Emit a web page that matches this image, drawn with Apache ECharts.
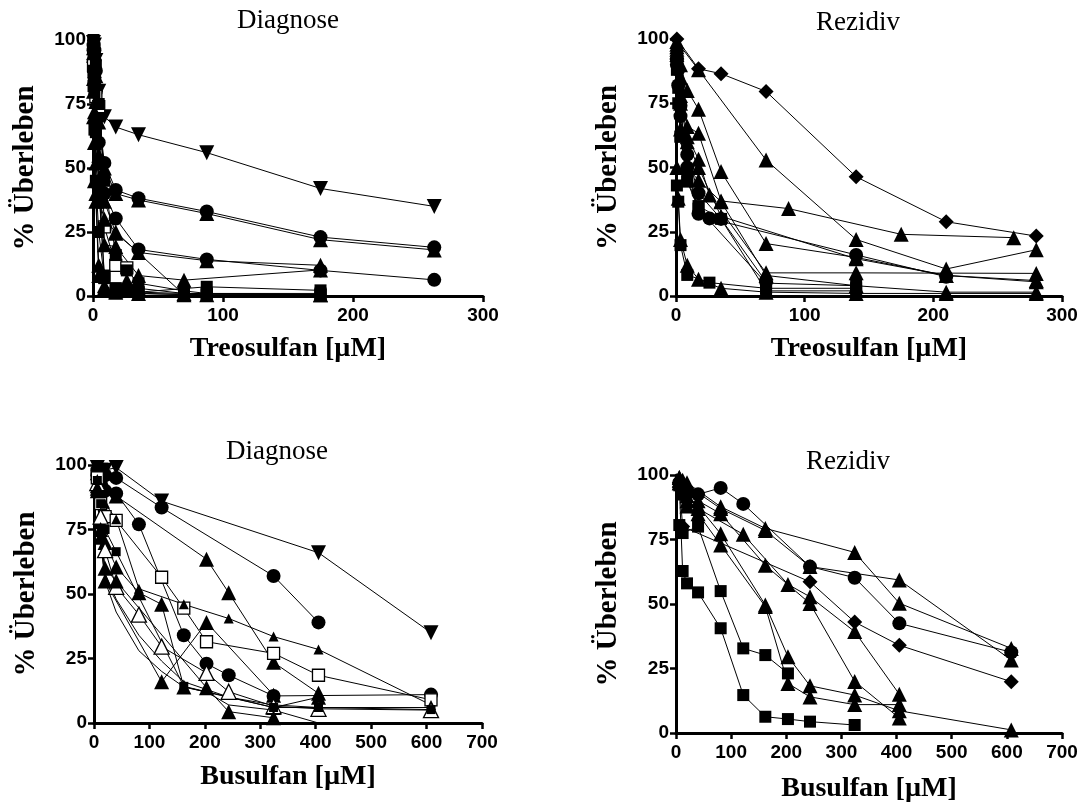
<!DOCTYPE html>
<html>
<head>
<meta charset="utf-8">
<script src="https://cdn.jsdelivr.net/npm/echarts@6/dist/echarts.min.js"></script>
<style>
  html, body { margin: 0; padding: 0; background: #fff; }
  #chart { width: 1085px; height: 805px; }
</style>
</head>
<body>
<div id="chart"></div>
<script>
// Dosen (µM) je Panel
const treoDiagDoses = [0.4, 1.1, 2.2, 4.4, 8.75, 17.5, 26, 35, 70, 87.5, 175, 262.5];
const treoRezDoses = [0.7, 1.75, 3.5, 8.75, 17.5, 26, 35, 70, 87.5, 140, 175, 210, 262.5, 280];
const busuDiagDoses = [6, 12, 20, 40, 81, 122, 162, 203, 243, 324, 405, 608];
const busuRezDoses = [6, 12, 20, 40, 81, 122, 162, 203, 243, 324, 405, 608];

// % Überleben, je Zeile: [Symbol, Werte passend zu den Dosen]
const treoDiagRows = [
  ["triDown", [99, 98, 92, 80, 70, 66, null, 63, null, 56, 42, 35]],
  ["circle", [98, 96, 88, 70, 52, 41.4, null, 38.2, null, 33, 23, 19]],
  ["tri", [97, 95, 86, 68, 50, 40, null, 37.5, null, 32.2, 22, 18]],
  ["circle", [96, 92, 80, 60, 40, 30.3, null, 18.2, null, 14.3, 10, 6.3]],
  ["tri", [95, 90, 76, 55, 37, 24.5, null, 17, null, 13.8, 12, null]],
  ["tri", [94, 88, 70, 45, 20, 19.3, null, 8, 6.2, null, 10.2, null]],
  ["openSquare", [90, 85, 78, 74, 27, 12, 11, null, null, null, null, null]],
  ["square", [88, 80, 64, 44, 8, 2, null, 1.5, null, 3.6, 2.2, null]],
  ["tri", [85, 72, 52, 38, 30, 25, null, null, 0.5, null, null, null]],
  ["square", [82, 65, 45, 25, 7, 3, 2, 1.5, 1, 1, 1, null]],
  ["tri", [80, 60, 40, 12, 4, 2, 6, 3, 1, null, 0.5, null]],
  ["square", [100, 97, 90, 75, 45, 16, 10, 5, 2, 1, 0.5, null]],
  ["tri", [70, 45, 37, 8, 3, 1.5, null, 1, null, 0.5, 0.5, null]],
  ["square", [95, 85, 65, 43, 7, 3, 2, 1, 0.5, 0.5, 0.5, null]]
];
const treoRezRows = [
  ["diamond", [100, null, null, null, 88.4, null, 86.5, 79.6, null, 46.4, null, 28.9, null, 23.3]],
  ["tri", [99, null, null, null, 88, null, null, 52.9, null, 22, null, 10.5, null, 18]],
  ["tri", [98, null, 90, 80, 72.7, null, 48.4, 20.4, null, 15, null, 8, null, 6]],
  ["tri", [97, null, 85, 66, 63.3, null, 37, null, 34, null, 24, null, 22.7, null]],
  ["tri", [96, null, 78, 62, 53.2, 39.3, null, 9, null, 9, null, null, null, 8.8]],
  ["tri", [95, null, 75, 60, 50, null, 31, null, null, 14.5, null, 8, null, 5.5]],
  ["circle", [92, 88, 74, 50, 32, 30.2, null, null, null, 16, null, 7.5, null, null]],
  ["tri", [94, null, 65, 50, 45, null, 36.7, 8, null, 4, null, 1.5, null, 1.5]],
  ["circle", [90, 82, 70, 55, 40, null, 30, 5.5, null, null, null, null, null, null]],
  ["square", [88, 81, 62, 44.5, 34, null, null, 5, null, 4, null, null, null, null]],
  ["square", [95, 75, 62, 45, 35, null, 30, 2, null, 2, null, null, null, null]],
  ["tri", [50, 38, 22, 12, 6.5, null, 3, 1.5, null, 1, null, 1, null, 1]],
  ["square", [43, 36.7, 19.8, 8.2, null, 5.2, null, 3, null, 3, null, null, null, null]]
];
const busuDiagRows = [
  ["triDown", [99, 98, 98, 99, null, 86, null, null, null, null, 66, 35]],
  ["circle", [98, 97, 96, 95, null, 83.5, null, null, null, 57, 39, null]],
  ["circle", [96, 93, 90, 89, 77, null, 34, 23, 18.5, 10.5, null, 11]],
  ["tri", [97, 95, 92, 88, null, null, null, 63.5, 50.5, 23.5, 11.5, null]],
  ["openSquare", [95, 85, 80, 78.5, null, 56.5, 44.5, 31.5, null, 27, 18.5, 9]],
  ["smallTri", [94, 90, 85, 79, 52, null, 46, null, 40.5, 33.5, 28.5, 7]],
  ["tri", [92, 78, 70, 60.5, 50.5, 46, 14, null, null, 6, 10, null]],
  ["tri", [90, 72, 55, null, null, 16, null, 39, null, 10.8, null, null]],
  ["openTri", [93, 80, 67, 52.8, 42, 29.6, null, 19.4, 12.1, 6.5, 5.5, 5]],
  ["smallSquare", [94, 85, 75, 66.4, null, null, 14.2, null, null, 6, 6, 5.2]],
  ["tri", [91, 75, 60, 55, null, null, null, 13.7, 4.4, 2, null, null]],
  ["none", [88, 70, 55, 43, 28, 20, 14, 12, 7, 5, 0, null]],
  ["none", [90, 74, 58, 48, 34, 24, 16, 13, 10, 7, 6, 6]]
];
const busuRezRows = [
  ["circle", [97, 96, 94, 92.5, 95, 88.8, null, null, 64.5, 60.2, 42.5, 31.3]],
  ["tri", [99, 98, 97, null, 87.7, null, 79.3, null, null, 70, 50.3, 32.8]],
  ["tri", [98, 97, 96, null, 87, null, 78.5, null, 64.5, null, 59.3, 28.3]],
  ["tri", [97, 95, 90, 87, null, 77, null, 57.6, 52.8, 39.3, 15, null]],
  ["diamond", [97, 80, null, null, null, null, null, null, 58.6, 43, 34, 19.9]],
  ["tri", [98, 95, 92, 88, 77.2, null, 49.6, 29.6, 18.3, 14.7, 8.6, 1.2]],
  ["tri", [97, 93, 88, 85, 72.9, null, 49, 19.2, 14, 11, 11, null]],
  ["tri", [99, 97, 94, 90, 85, null, 65, null, 50.2, 20, 5.8, null]],
  ["square", [80.6, 77.5, null, 80, 55, 32.8, 30.2, 23.1, null, null, null, null]],
  ["square", [96, 62.8, 58, 54.5, 40.6, 14.7, 6.3, 5.4, 4.4, 3.1, null, null]]
];

const serif = "'Liberation Serif', 'Times New Roman', serif";
const sans = "'Liberation Sans', Arial, sans-serif";

const SYM = {
  circle: { symbol: "circle", size: 14 },
  square: { symbol: "rect", size: 12 },
  tri: { symbol: "triangle", size: 15 },
  triDown: { symbol: "triangle", size: 15, rotate: 180 },
  diamond: { symbol: "diamond", size: 15 },
  openSquare: { symbol: "rect", size: 12, open: true },
  openTri: { symbol: "triangle", size: 15, open: true },
  smallTri: { symbol: "triangle", size: 10 },
  smallSquare: { symbol: "rect", size: 9 },
  none: { symbol: "none", size: 0 }
};

const panels = [
  { doses: treoDiagDoses, rows: treoDiagRows, max: 300, title: "Diagnose", xname: "Treosulfan [µM]",
    grid: { left: 93, top: 40, width: 390, height: 256 }, tx: 288, ty: 21, gap: 39 },
  { doses: treoRezDoses, rows: treoRezRows, max: 300, title: "Rezidiv", xname: "Treosulfan [µM]",
    grid: { left: 676, top: 39, width: 386, height: 257 }, tx: 858, ty: 23, gap: 39 },
  { doses: busuDiagDoses, rows: busuDiagRows, max: 700, title: "Diagnose", xname: "Busulfan [µM]",
    grid: { left: 94, top: 465, width: 388, height: 258 }, tx: 277, ty: 452, gap: 40 },
  { doses: busuRezDoses, rows: busuRezRows, max: 700, title: "Rezidiv", xname: "Busulfan [µM]",
    grid: { left: 676, top: 475, width: 386, height: 258 }, tx: 848, ty: 462, gap: 42 }
];

const grids = [], xAxes = [], yAxes = [], series = [], graphics = [];

panels.forEach((p, i) => {
  grids.push(p.grid);
  xAxes.push({
    gridIndex: i, type: "value", min: 0, max: p.max, interval: 100,
    name: p.xname, nameLocation: "middle", nameGap: p.gap,
    nameTextStyle: { fontFamily: serif, fontWeight: "bold", fontSize: 28, color: "#000" },
    axisLine: { show: true, onZero: false, lineStyle: { color: "#000", width: 3 } },
    axisTick: { show: true, length: 6, lineStyle: { color: "#000", width: 2.5 } },
    axisLabel: { fontFamily: sans, fontWeight: "bold", fontSize: 19, color: "#000", margin: 10 },
    splitLine: { show: false }
  });
  yAxes.push({
    gridIndex: i, type: "value", min: 0, max: 100, interval: 25,
    name: "% Überleben", nameLocation: "middle", nameGap: 53,
    nameTextStyle: { fontFamily: serif, fontWeight: "bold", fontSize: 29, color: "#000" },
    axisLine: { show: true, onZero: false, lineStyle: { color: "#000", width: 3 } },
    axisTick: { show: true, length: 6, lineStyle: { color: "#000", width: 2.5 } },
    axisLabel: { fontFamily: sans, fontWeight: "bold", fontSize: 19, color: "#000", margin: 7 },
    splitLine: { show: false }
  });
  graphics.push({
    type: "text", x: p.tx, y: p.ty,
    style: { text: p.title, fontFamily: serif, fontSize: 27, fill: "#000",
      textAlign: "center", textVerticalAlign: "middle" }
  });
  p.rows.forEach(([key, vals]) => {
    const s = SYM[key];
    const data = [];
    vals.forEach((v, k) => { if (v !== null) data.push([p.doses[k], v]); });
    series.push({
      type: "line", xAxisIndex: i, yAxisIndex: i, data: data,
      symbol: s.symbol, symbolSize: s.size, symbolRotate: s.rotate || 0,
      showSymbol: s.symbol !== "none", clip: false, silent: true,
      lineStyle: { color: "#000", width: 1 },
      itemStyle: s.open
        ? { color: "#fff", borderColor: "#000", borderWidth: 1.3 }
        : { color: "#000", borderWidth: 0 },
      emphasis: { disabled: true }
    });
  });
});

const chart = echarts.init(document.getElementById("chart"), null, { renderer: "canvas" });
chart.setOption({
  animation: false,
  backgroundColor: "#fff",
  grid: grids,
  xAxis: xAxes,
  yAxis: yAxes,
  series: series,
  graphic: graphics
});
</script>
</body>
</html>
